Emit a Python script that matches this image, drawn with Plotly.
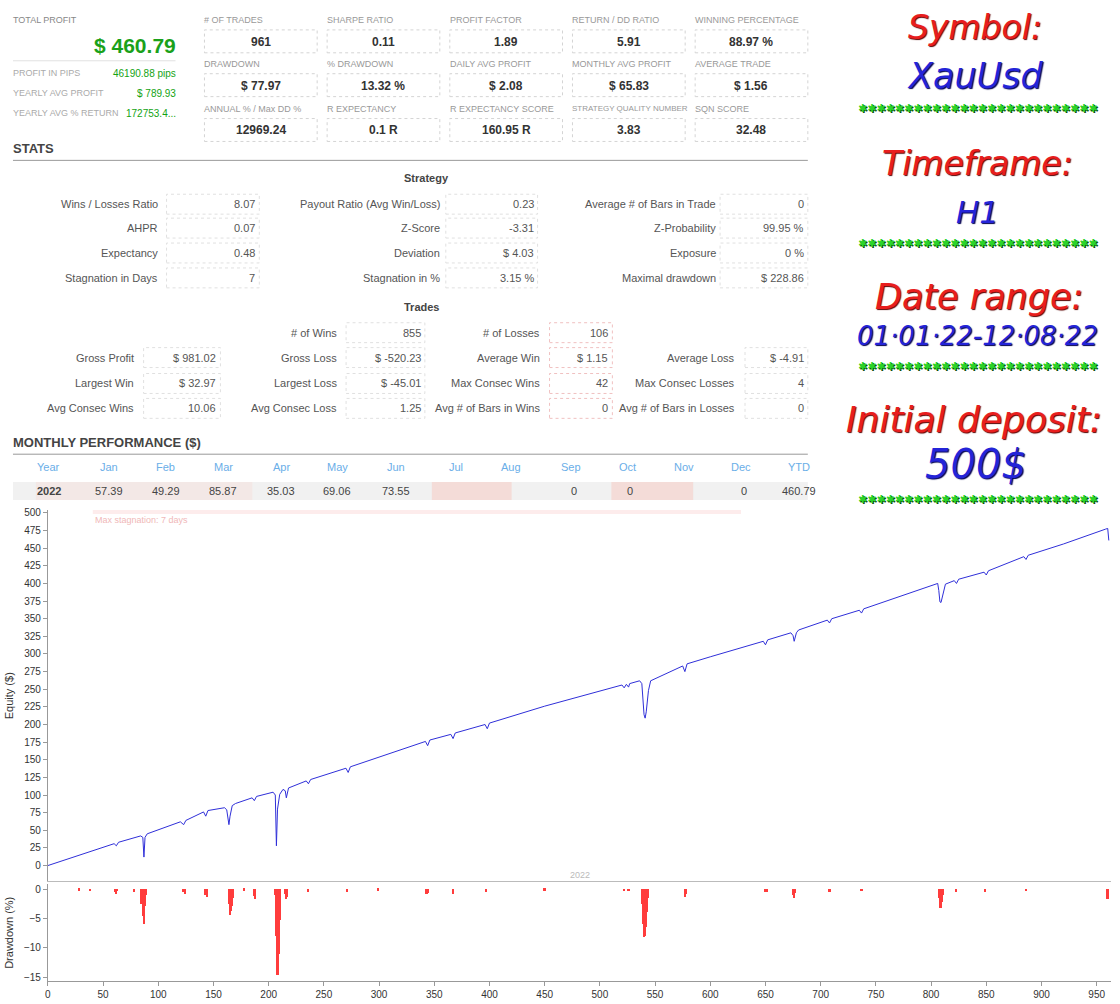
import plotly.graph_objects as go

W, H = 1120, 1004

# ---------------- DATA ----------------
top_left_labels = ["PROFIT IN PIPS", "YEARLY AVG PROFIT", "YEARLY AVG % RETURN"]
top_left_values = ["46190.88 pips", "$ 789.93", "172753.4..."]
total_profit = "$ 460.79"

metric_labels = [
    ["# OF TRADES", "SHARPE RATIO", "PROFIT FACTOR", "RETURN / DD RATIO", "WINNING PERCENTAGE"],
    ["DRAWDOWN", "% DRAWDOWN", "DAILY AVG PROFIT", "MONTHLY AVG PROFIT", "AVERAGE TRADE"],
    ["ANNUAL % / Max DD %", "R EXPECTANCY", "R EXPECTANCY SCORE", "STRATEGY QUALITY NUMBER", "SQN SCORE"],
]
metric_values = [
    ["961", "0.11", "1.89", "5.91", "88.97 %"],
    ["$ 77.97", "13.32 %", "$ 2.08", "$ 65.83", "$ 1.56"],
    ["12969.24", "0.1 R", "160.95 R", "3.83", "32.48"],
]

strategy_labels = [
    ["Wins / Losses Ratio", "AHPR", "Expectancy", "Stagnation in Days"],
    ["Payout Ratio (Avg Win/Loss)", "Z-Score", "Deviation", "Stagnation in %"],
    ["Average # of Bars in Trade", "Z-Probability", "Exposure", "Maximal drawdown"],
]
strategy_values = [
    ["8.07", "0.07", "0.48", "7"],
    ["0.23", "-3.31", "$ 4.03", "3.15 %"],
    ["0", "99.95 %", "0 %", "$ 228.86"],
]

trades_labels = [
    [None, "Gross Profit", "Largest Win", "Avg Consec Wins"],
    ["# of Wins", "Gross Loss", "Largest Loss", "Avg Consec Loss"],
    ["# of Losses", "Average Win", "Max Consec Wins", "Avg # of Bars in Wins"],
    [None, "Average Loss", "Max Consec Losses", "Avg # of Bars in Losses"],
]
trades_values = [
    [None, "$ 981.02", "$ 32.97", "10.06"],
    ["855", "$ -520.23", "$ -45.01", "1.25"],
    ["106", "$ 1.15", "42", "0"],
    [None, "$ -4.91", "4", "0"],
]

months = ["Year", "Jan", "Feb", "Mar", "Apr", "May", "Jun", "Jul", "Aug", "Sep", "Oct", "Nov", "Dec", "YTD"]
month_values = ["2022", "57.39", "49.29", "85.87", "35.03", "69.06", "73.55", "", "", "0", "0", "", "0", "460.79"]

side_titles = ["Symbol:", "Timeframe:", "Date range:", "Initial deposit:"]
side_values = ["XauUsd", "H1", "01·01·22-12·08·22", "500$"]

# equity curve (trade #, equity $)
eq_idx = [0, 30, 60, 62, 64, 84, 86, 87, 88, 90, 120, 123, 125, 141, 143, 145, 160, 162, 164, 165, 167, 170,
          185, 187, 189, 204, 206, 207, 208, 210, 213, 215, 216, 218, 234, 236, 238, 270, 272, 274, 300,
          342, 344, 346, 365, 367, 369, 396, 398, 400, 450, 500, 520, 522, 524, 526, 527, 536, 538, 540, 541, 542, 544, 546,
          575, 577, 579, 600, 648, 650, 652, 673, 675, 676, 678, 680, 706, 708, 710, 735, 737, 739, 760,
          804, 806, 807, 808, 809, 811, 813, 821, 823, 825, 848, 850, 852, 884, 886, 888, 920, 958, 960, 961]
eq_val = [0, 16, 31, 28, 33, 42, 40, 12, 40, 45, 62, 58, 64, 76, 70, 78, 82, 79, 58, 70, 85, 88,
          96, 92, 98, 104, 100, 28, 80, 101, 108, 106, 96, 110, 120, 116, 122, 138, 132, 140, 154,
          176, 170, 178, 186, 180, 188, 200, 194, 202, 226, 248, 256, 252, 257, 253, 258, 262, 258, 214, 209, 218, 248, 262,
          283, 275, 286, 296, 318, 313, 320, 330, 326, 318, 330, 334, 348, 344, 350, 362, 358, 364, 375,
          398, 400, 390, 374, 373, 386, 399, 404, 400, 406, 416, 412, 418, 438, 434, 440, 456, 477, 478, 461]

# drawdown (trade #, %)
dd_idx = [28, 38, 61, 62, 63, 78, 85, 86, 87, 88, 89, 123, 124, 143, 144, 164, 165, 166, 167, 168, 178, 187, 188,
          206, 207, 208, 209, 210, 215, 216, 217, 236, 271, 299, 343, 344, 367, 397, 450, 522, 526, 538, 539, 540, 541,
          542, 543, 544, 577, 578, 650, 651, 675, 676, 677, 708, 737, 807, 808, 809, 810, 811, 823, 849, 886, 960]
dd_val = [-0.3, -0.4, -0.6, -0.8, -0.4, -0.5, -2.5, -4.7, -6.0, -3.0, -1.0, -0.6, -0.8, -1.0, -1.3, -2.5, -4.5, -3.8, -3.0, -1.5, -0.3, -1.2, -1.8,
          -1.0, -8.0, -14.8, -11.2, -5.3, -0.8, -1.8, -1.4, -0.6, -0.5, -0.3, -0.9, -0.7, -0.8, -0.6, -0.3, -0.4, -0.4, -2.5, -6.0, -8.3, -8.0,
          -6.5, -4.0, -1.5, -1.3, -0.8, -0.5, -0.6, -1.0, -1.6, -0.7, -0.5, -0.4, -1.5, -3.2, -3.2, -2.2, -1.0, -0.5, -0.6, -0.4, -1.8]

eq_ticks = list(range(0, 501, 25))
x_ticks = list(range(0, 951, 50))
dd_ticks = [0, -5, -10, -15]

# ---------------- HELPERS ----------------
def px(x):
    return x / W

def py(y):
    return 1 - y / H

annotations = []
shapes = []
FONT = "Liberation Sans, Arial, sans-serif"


def text(x, y, s, size=11, color="#555", anchor="left", bold=False, family=FONT, valign="middle", shadow=None):
    if bold:
        s = "<b>" + s + "</b>"
    font = dict(size=size, color=color, family=family)
    if shadow:
        font["shadow"] = shadow
    annotations.append(dict(x=px(x), y=py(y), xref="paper", yref="paper", text=s, showarrow=False,
                            xanchor=anchor, yanchor=valign, borderpad=0, borderwidth=0, font=font))


def box(x0, y0, x1, y1, color="#d4d4d4", dash="dot", fill=None):
    shapes.append(dict(type="rect", xref="paper", yref="paper", x0=px(x0), x1=px(x1), y0=py(y1), y1=py(y0),
                       line=dict(color=color, width=1, dash=dash), fillcolor=fill or "rgba(0,0,0,0)", layer="below"))


def hline(x0, x1, y, color="#999", width=1):
    shapes.append(dict(type="line", xref="paper", yref="paper", x0=px(x0), x1=px(x1), y0=py(y), y1=py(y),
                       line=dict(color=color, width=width)))

# ---------------- TOP LEFT ----------------
text(10, 17, "TOTAL PROFIT", size=9, color="#888")
text(173, 43, total_profit, size=21, color="#1aa11a", anchor="right", bold=True)
hline(10, 173, 58, color="#e2e2e2")
for k, (lab, val) in enumerate(zip(top_left_labels, top_left_values)):
    yy = 70 + 20 * k
    text(10, yy, lab, size=9, color="#aaa")
    text(173, yy + 1, val, size=10, color="#13a313", anchor="right")

# ---------------- METRIC BOXES ----------------
col_x = [202, 325, 448, 571, 694]
row_y = [17, 61, 106]
for r in range(3):
    for c in range(5):
        x0 = col_x[c]
        lab = metric_labels[r][c]
        text(x0, row_y[r], lab, size=8 if len(lab) > 20 else 9, color="#999")
        by0 = row_y[r] + 10
        box(x0, by0, x0 + 113, by0 + 23)
        text(x0 + 56.5, by0 + 12, metric_values[r][c], size=12, color="#333", anchor="center", bold=True)

# ---------------- STATS ----------------
text(10, 146, "STATS", size=13, color="#444", bold=True)
hline(10, 807, 158, color="#999")
text(425, 176, "Strategy", size=11, color="#444", anchor="center", bold=True)
s_label_right = [155, 438, 715]
s_box = [(164, 257), (444, 536), (719, 807)]
s_rows = [202, 226, 251, 276]
for c in range(3):
    for r in range(4):
        yy = s_rows[r]
        text(s_label_right[c], yy, strategy_labels[c][r], size=11, color="#555", anchor="right")
        box(s_box[c][0], yy - 10, s_box[c][1], yy + 10, color="#e0e0e0")
        text(s_box[c][1] - 4, yy, strategy_values[c][r], size=11, color="#555", anchor="right")

# ---------------- TRADES ----------------
text(420, 305, "Trades", size=11, color="#444", anchor="center", bold=True)
t_label_right = [131, 335, 538, 734]
t_box = [(141, 218), (344, 423), (548, 611), (744, 807)]
t_rows = [331, 356, 382, 407]
for c in range(4):
    for r in range(4):
        lab = trades_labels[c][r]
        if lab is None:
            continue
        yy = t_rows[r]
        text(t_label_right[c], yy, lab, size=11, color="#555", anchor="right")
        bc = "#f0c0c0" if c == 2 else "#e0e0e0"
        box(t_box[c][0], yy - 10, t_box[c][1], yy + 10, color=bc)
        text(t_box[c][1] - 4, yy, trades_values[c][r], size=11, color="#555", anchor="right")

# ---------------- MONTHLY ----------------
text(10, 441, "MONTHLY PERFORMANCE ($)", size=13, color="#444", bold=True)
hline(10, 807, 453, color="#999")
m_x = [46, 106, 163, 221, 279, 335, 394, 454, 509, 570, 626, 683, 740, 790]
box(10, 481, 807, 499, color="rgba(0,0,0,0)", dash="solid", fill="#f1f1f1")
box(33, 481, 250, 499, color="rgba(0,0,0,0)", dash="solid", fill="rgba(250,200,190,0.22)")
box(430, 481, 510, 499, color="rgba(0,0,0,0)", dash="solid", fill="rgba(250,190,180,0.4)")
box(610, 481, 692, 499, color="rgba(0,0,0,0)", dash="solid", fill="rgba(250,190,180,0.4)")
for k, (m, v) in enumerate(zip(months, month_values)):
    xx = m_x[k] + (8 if k == 13 else 0)
    text(xx, 466, m, size=11, color="#6aaee8", anchor="center")
    if v:
        text(xx + (3 if k in (9, 10, 12) else 0), 490, v, size=11, color="#444", anchor="center", bold=(k == 0))

# ---------------- SIDE PANEL ----------------
SIDE_FONT = "DejaVu Sans, sans-serif"
side_pos = [(975, 25, 975, 73, 106), (977, 161, 977, 210, 241), (979, 295, 977, 334, 365), (974, 418, 976, 463, 498)]
title_sizes = [33, 33, 35, 36]
value_sizes = [35, 31, 26, 40]
for k in range(4):
    tx, ty, vx, vy, sy = side_pos[k]
    text(tx, ty, "<i>" + side_titles[k] + "</i>", size=title_sizes[k], color="#e81e1e", anchor="center",
         family=SIDE_FONT, shadow="1px 1px 1px #5a0000")
    text(vx, vy, "<i>" + side_values[k] + "</i>", size=value_sizes[k], color="#2424d8", anchor="center",
         family=SIDE_FONT, shadow="1px 1px 1px #000050")
    text(978, sy, "✱" * 26, size=11, color="#2ad42a", anchor="center", family=SIDE_FONT,
         shadow="1px 1px 0px #0a4a0a")

# ---------------- CHART DECOR ----------------
box(90, 509, 740, 513, color="rgba(0,0,0,0)", dash="solid", fill="rgba(250,200,200,0.35)")
text(92, 519, "Max stagnation: 7 days", size=9, color="#f0b8b8")
text(579, 875, "2022", size=9, color="#bbb", anchor="center")

# ---------------- FIGURE ----------------
fig = go.Figure()
fig.add_trace(go.Scatter(x=eq_idx, y=eq_val, mode="lines", line=dict(color="#2f2fd8", width=1),
                         xaxis="x", yaxis="y", showlegend=False, hoverinfo="skip"))
fig.add_trace(go.Bar(x=dd_idx, y=dd_val, marker=dict(color="#ff3c3c", line=dict(width=0)), width=1.6,
                     xaxis="x2", yaxis="y2", showlegend=False, hoverinfo="skip"))

xdom = [px(45), px(1111)]
axis_common = dict(showgrid=False, zeroline=False, linecolor="#999", linewidth=1,
                   tickfont=dict(size=10, color="#333", family=FONT), ticks="outside", ticklen=4, tickcolor="#999")
fig.update_layout(
    width=W, height=H, margin=dict(l=0, r=0, t=0, b=0),
    paper_bgcolor="white", plot_bgcolor="white",
    font=dict(family=FONT),
    bargap=0,
    xaxis=dict(domain=xdom, range=[0, 963], anchor="y", showticklabels=False, showline=True, ticks="",
               showgrid=False, zeroline=False, linecolor="#bbb"),
    yaxis=dict(domain=[py(882), py(509)], range=[-22.6, 504.2], tickvals=eq_ticks, showline=True,
               title=dict(text="Equity ($)", font=dict(size=11, color="#333"), standoff=8), **axis_common),
    xaxis2=dict(domain=xdom, range=[0, 963], anchor="y2", tickvals=x_ticks, showline=True, **axis_common),
    yaxis2=dict(domain=[py(982), py(885)], range=[-15.7, 0.85], tickvals=dd_ticks, showline=True,
                title=dict(text="Drawdown (%)", font=dict(size=11, color="#333"), standoff=8), **axis_common),
    annotations=annotations,
    shapes=shapes,
)

fig.write_html("out.html", config={"displayModeBar": False},
               post_script="document.body.style.margin='0px';document.body.style.overflow='hidden';")
